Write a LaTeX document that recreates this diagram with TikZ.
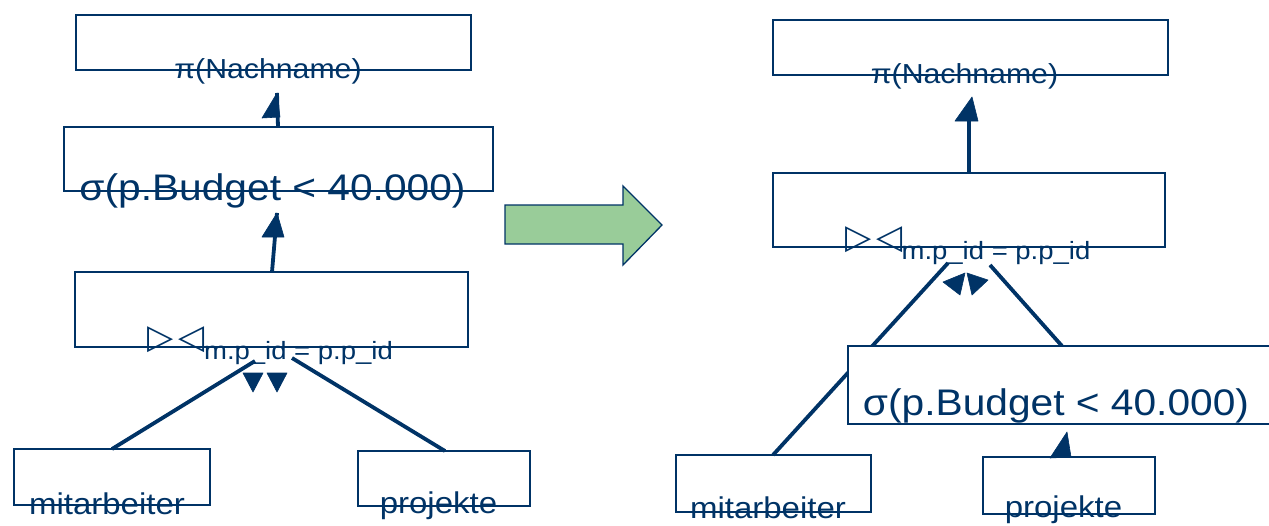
\documentclass[tikz,border=0pt]{standalone}
\usepackage{fontspec}
\setmainfont{Liberation Sans}
\newfontfamily\widefont[FakeStretch=1.1]{Liberation Sans}
\newfontfamily\symfont{DejaVu Sans}
\definecolor{navy}{RGB}{0,51,102}
\definecolor{arrowgreen}{RGB}{153,204,153}
\newcommand{\bx}[5]{\node[box, minimum width={(#4-#2)*1pt}, minimum height={(#5-#3)*1pt}] (#1) at ({(#2+#4)/2},{(#3+#5)/2}) {};}
\tikzset{
  box/.style={draw=navy, line width=1.1pt, fill=white, inner sep=0pt, outer sep=0pt},
  lbl/.style={text=navy, inner sep=0pt, anchor=base},
  conn/.style={draw=navy, line width=3.8pt},
  head/.style={fill=navy, draw=navy, line width=0.6pt, line join=round},
}
\begin{document}
\begin{tikzpicture}[x=1pt,y=-1pt]
\useasboundingbox (0,0) rectangle (1269,525);
% ---------------- left tree ----------------
\bx{piL}{76}{15}{471}{70}
\bx{sigL}{64}{127}{493}{191}
\bx{joinL}{75}{272}{468}{347}
\bx{mitL}{14}{449}{210}{505}
\bx{projL}{358}{451}{530}{506}
\coordinate (piLin) at (277,93);
\coordinate (sigLin) at (277,213);
\coordinate (joinLa) at (255,361);
\coordinate (joinLb) at (292,358);
\draw[conn] (sigL.north -| 278,0) -- (piLin);
\fill[head] (262,118) -- (piLin) -- (280,117) -- cycle;
\draw[conn] (joinL.north -| 272,0) -- (sigLin);
\fill[head] (262,237) -- (sigLin) -- (284,237) -- cycle;
\draw[conn] (mitL.north -| 112,0) -- (joinLa);
\draw[conn] (projL.north -| 445,0) -- (joinLb);
\fill[head] (243,373) -- (263,373) -- (253,392) -- cycle;
\fill[head] (267,373) -- (287,373) -- (277,392) -- cycle;
\node[lbl] (tpiL) at (268,78) {\widefont\fontsize{27.5}{30}\selectfont π(Nachname)};
\node[lbl] (tsigL) at (272.5,200) {\widefont\fontsize{37}{40}\selectfont σ(p.Budget < 40.000)};
\node[lbl] (tjoinL) at (176.5,348) {\symfont\fontsize{34}{36}\selectfont ▷\hspace{5pt}◁};
\node[lbl] (tcondL) at (298.5,359) {\widefont\fontsize{25}{28}\selectfont m.p\_id = p.p\_id};
\node[lbl] (tmitL) at (107,514) {\widefont\fontsize{30}{33}\selectfont mitarbeiter};
\node[lbl] (tprojL) at (438.5,513) {\widefont\fontsize{30}{33}\selectfont projekte};
% ---------------- transform arrow ----------------
\path[fill=arrowgreen, draw=navy, line width=1.3pt, line join=miter]
  (505,205) -- (623,205) -- (623,186) -- (662,225) -- (623,265) -- (623,244) -- (505,244) -- cycle;
\node[inner sep=0pt] (bigarrow) at (583,225) {};
% ---------------- right tree ----------------
\bx{piR}{773}{20}{1168}{75}
\bx{joinR}{773}{173}{1165}{247}
\bx{mitR}{676}{455}{871}{512}
\bx{projR}{983}{457}{1155}{514}
\coordinate (piRin) at (972,97);
\coordinate (joinRa) at (948,263);
\coordinate (joinRb) at (990,265);
\coordinate (sigRin) at (1067,432);
\draw[conn] (joinR.north -| 969,0) -- (969,110);
\fill[head] (955,121) -- (piRin) -- (978,121) -- cycle;
\draw[conn] (mitR.north -| 773,0) -- (joinRa);
\draw[conn] (1062,346) -- (joinRb);
\fill[head] (943,282) -- (965,273) -- (960,295) -- cycle;
\fill[head] (967,273) -- (988,280) -- (972,295) -- cycle;
\bx{sigR}{848}{346}{1290}{424}
\draw[conn] (projR.north -| 1066,0) -- (1066,440);
\fill[head] (1050,458) -- (sigRin) -- (1071,457) -- cycle;
\node[lbl] (tpiR) at (964.5,83) {\widefont\fontsize{27.5}{30}\selectfont π(Nachname)};
\node[lbl] (tjoinR) at (874,248) {\symfont\fontsize{34}{36}\selectfont ▷\hspace{5pt}◁};
\node[lbl] (tcondR) at (996,259) {\widefont\fontsize{25}{28}\selectfont m.p\_id = p.p\_id};
\node[lbl] (tsigR) at (1056,415) {\widefont\fontsize{37}{40}\selectfont σ(p.Budget < 40.000)};
\node[lbl] (tmitR) at (768,518) {\widefont\fontsize{30}{33}\selectfont mitarbeiter};
\node[lbl] (tprojR) at (1063.5,517) {\widefont\fontsize{30}{33}\selectfont projekte};
\end{tikzpicture}
\end{document}
